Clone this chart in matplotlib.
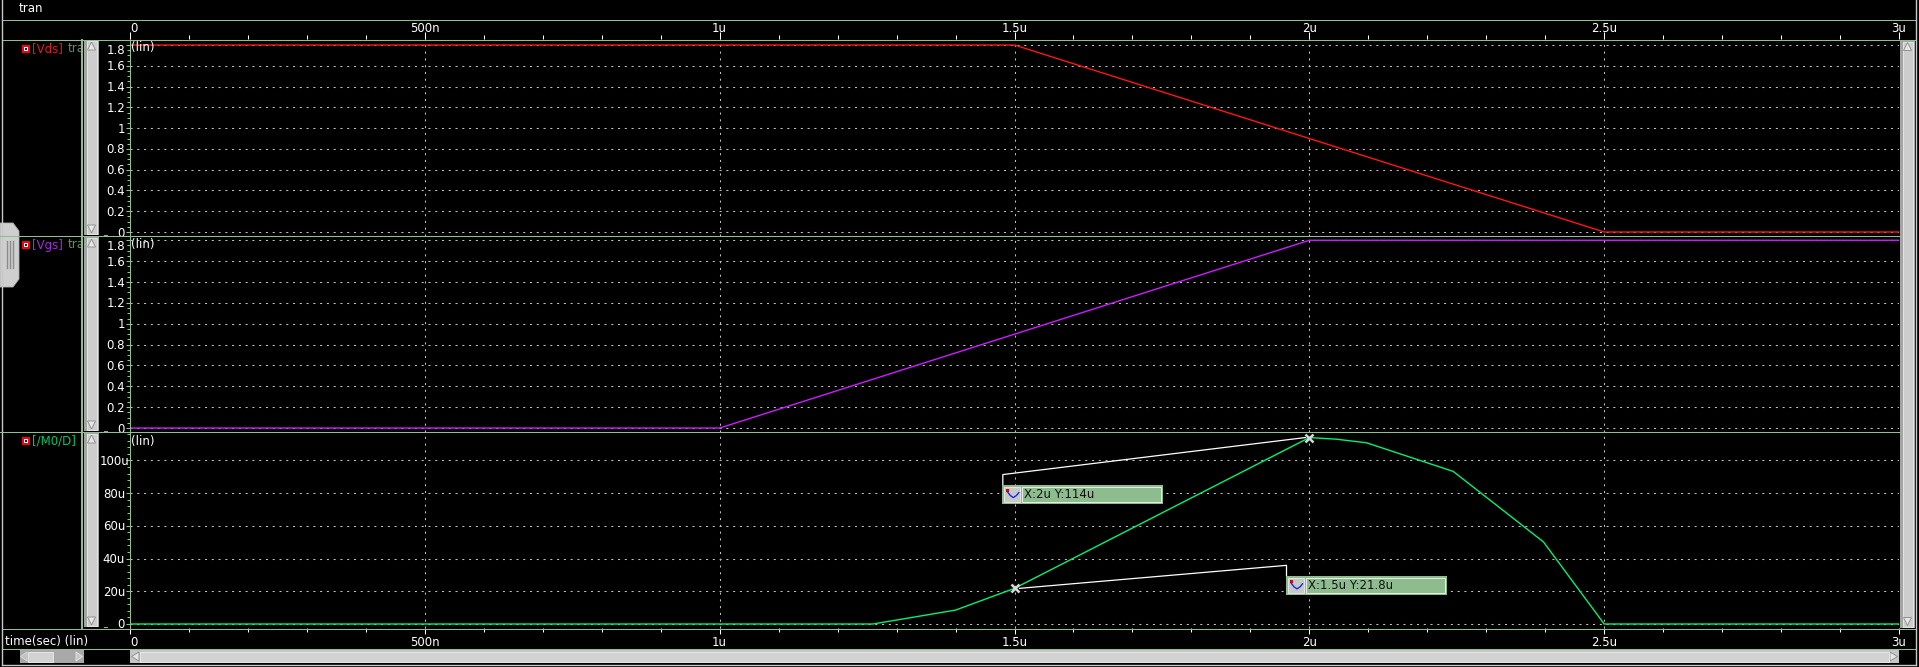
import matplotlib
matplotlib.use("Agg")
import matplotlib.pyplot as plt
from matplotlib.patches import Rectangle, Polygon
from matplotlib.lines import Line2D
from matplotlib.ticker import FixedLocator, MultipleLocator, NullFormatter

W, H = 1919, 667
DPI = 100

# ---------------- data ----------------
time_ticks = [0.0, 0.5, 1.0, 1.5, 2.0, 2.5, 3.0]
time_labels = ["0", "500n", "1u", "1.5u", "2u", "2.5u", "3u"]
volt_ticks = [0.0, 0.2, 0.4, 0.6, 0.8, 1.0, 1.2, 1.4, 1.6, 1.8]
volt_labels = ["0", "0.2", "0.4", "0.6", "0.8", "1", "1.2", "1.4", "1.6", "1.8"]
cur_ticks = [0, 20, 40, 60, 80, 100]
cur_labels = ["0", "20u", "40u", "60u", "80u", "100u"]

t_vds = [0.0, 1.5, 2.5, 3.0]
vds = [1.8, 1.8, 0.0, 0.0]
t_vgs = [0.0, 1.0, 2.0, 3.0]
vgs = [0.0, 0.0, 1.8, 1.8]
t_id = [0.0, 1.26, 1.40, 1.50, 2.00, 2.046, 2.097, 2.244, 2.397, 2.50, 3.00]
id_u = [0.0, 0.0, 8.5, 21.8, 114.0, 113.0, 110.8, 93.3, 50.2, 0.0, 0.0]

mark_t = [1.5, 2.0]
mark_i = [21.8, 114.0]
mark_txt = ["X:1.5u Y:21.8u", "X:2u Y:114u"]

signal_names = ["[Vds]", "[Vgs]", "[/M0/D]"]
# --------------------------------------

GREEN = "#90c090"
GRID = "#c0c0c0"
FS = 8.5
sig_colors = ["#e81818", "#a428e0", "#00c864"]
line_colors = ["#ff1414", "#cc1cff", "#00f070"]

fig = plt.figure(figsize=(W / DPI, H / DPI), dpi=DPI, facecolor="black")


def frac(x0, y0, x1, y1):
    return [x0 / W, 1 - y1 / H, (x1 - x0) / W, (y1 - y0) / H]


panels = [(39, 236, (-0.0385, 1.858)), (236, 432, (-0.038, 1.841)), (432, 628, (-2.45, 117.4))]
tick_sets = [(volt_ticks, volt_labels, 0.05), (volt_ticks, volt_labels, 0.05), (cur_ticks, cur_labels, 4)]
series = [(t_vds, vds), (t_vgs, vgs), (t_id, id_u)]

axes = []
for i, (top, bot, yl) in enumerate(panels):
    ax = fig.add_axes(frac(130, top, 1899, bot))
    ax.set_facecolor("black")
    ax.set_xlim(0, 3.0)
    ax.set_ylim(*yl)
    for s in ["top", "right", "bottom"]:
        ax.spines[s].set_visible(False)
    ax.spines["left"].set_color(GREEN)
    ax.spines["left"].set_linewidth(0.75)
    ax.xaxis.set_major_locator(FixedLocator(time_ticks))
    ax.xaxis.set_minor_locator(MultipleLocator(0.1))
    ax.xaxis.set_major_formatter(NullFormatter())
    ax.xaxis.set_minor_formatter(NullFormatter())
    tk, tl, mn = tick_sets[i]
    ax.yaxis.set_major_locator(FixedLocator(tk))
    ax.yaxis.set_minor_locator(MultipleLocator(mn))
    ax.yaxis.set_major_formatter(NullFormatter())
    ax.yaxis.set_minor_formatter(NullFormatter())
    ax.set_axisbelow(True)
    ax.grid(True, which="major", color=GRID, linestyle=(0, (2.0, 4.5)), linewidth=0.75)
    ax.tick_params(axis="x", which="both", bottom=False, top=False, labelbottom=False, labeltop=False)
    ax.tick_params(axis="y", which="both", left=True, right=False, labelleft=False,
                   color=GREEN, width=0.75, direction="out")
    ax.tick_params(axis="y", which="major", length=3.2)
    ax.tick_params(axis="y", which="minor", length=2.2)
    ts, vs = series[i]
    ax.plot(ts, vs, color=line_colors[i], lw=1.0, solid_joinstyle="miter")
    axes.append(ax)

ax1, ax2, ax3 = axes
ax1.tick_params(axis="x", which="both", top=True, color="white", width=0.75, direction="out")
ax1.tick_params(axis="x", which="major", length=4.7)
ax1.tick_params(axis="x", which="minor", length=3.2)
ax3.tick_params(axis="x", which="both", bottom=True, color="white", width=0.75, direction="out")
ax3.tick_params(axis="x", which="major", length=4.3)
ax3.tick_params(axis="x", which="minor", length=3.1)


def px(ax, x, y):
    d = ax.transData.transform((x, y))
    return d[0], H - d[1]


# y tick labels
ylabel_texts = []
for i, ax in enumerate(axes):
    top = panels[i][0]
    tk, tl, _ = tick_sets[i]
    for v, l in zip(tk, tl):
        yc = px(ax, 0, v)[1]
        dy = -1
        if yc < top + 10:
            dy = -(top + 10 - yc) - 1
        t = ax.annotate(l, xy=(0, v), xycoords=("axes fraction", "data"), xytext=(-5, dy),
                        textcoords="offset pixels", ha="right", va="center", color="white",
                        fontsize=FS, annotation_clip=False)
        ylabel_texts.append(t)
    # (lin)
    ax.annotate("(lin)", xy=(0, 1), xycoords="axes fraction", xytext=(1, -9),
                textcoords="offset pixels", ha="left", va="center", color="white", fontsize=FS)

# x tick labels (top and bottom)
xlabel_texts = []
for v, l in zip(time_ticks, time_labels):
    t1 = ax1.annotate(l, xy=(v, 1), xycoords=("data", "axes fraction"), xytext=(0, 10.5),
                      textcoords="offset pixels", ha="center", va="center", color="white",
                      fontsize=FS, annotation_clip=False)
    t3 = ax3.annotate(l, xy=(v, 0), xycoords=("data", "axes fraction"), xytext=(0, -14.5),
                      textcoords="offset pixels", ha="center", va="center", color="white",
                      fontsize=FS, annotation_clip=False)
    xlabel_texts += [t1, t3]

# markers on the current trace
ax3.plot(mark_t, mark_i, linestyle="none", marker="x", ms=6, mew=1.8, color="#d8d8d8",
         clip_on=False, zorder=5)

# ---------------- overlay (pixel coordinates) ----------------
ov = fig.add_axes([0, 0, 1, 1], zorder=10)
ov.set_xlim(0, W)
ov.set_ylim(H, 0)
ov.axis("off")
ov.patch.set_alpha(0)


def hline(y, x0, x1, color=GREEN, lw=0.75, z=4):
    ov.add_line(Line2D([x0, x1], [y, y], color=color, lw=lw, zorder=z))


def vline(x, y0, y1, color=GREEN, lw=0.75, z=4):
    ov.add_line(Line2D([x, x], [y0, y1], color=color, lw=lw, zorder=z))


# window frame
vline(2, 0, 665, color="#c8c8c8", lw=1.0)
vline(1916, 0, 665, color="#c8c8c8", lw=1.0)
hline(665, 2, 1916, color="#c8c8c8", lw=1.0)

# green separators
hline(20, 3, 1915)
hline(39.5, 3, 1915)
hline(236, 0, 1900)
hline(432, 0, 1900)
hline(628.5, 3, 1915)
hline(648.5, 3, 1915)
vline(82, 39.5, 628.5, lw=1.4)

# title and bottom label
ov.text(19, 8, "tran", color="white", fontsize=FS, ha="left", va="center")
ov.text(5, 642, "time(sec) (lin)", color="white", fontsize=FS, ha="left", va="center")

# signal names + icons
label_y = [49, 245, 441]
for name, c, yy in zip(signal_names, sig_colors, label_y):
    ov.add_patch(Rectangle((21.5, yy - 4.5), 8, 8, fc="#ff0000", ec="none", zorder=1))
    ov.add_patch(Rectangle((23.5, yy - 2.5), 4, 4, fc="white", ec="none", zorder=1))
    ov.add_patch(Rectangle((24.5, yy - 1.5), 2, 2, fc="#0010d0", ec="none", zorder=1))
    ov.text(32, yy, name, color=c, fontsize=FS, ha="left", va="center", zorder=1)
for yy in label_y[:2]:
    ov.text(67.5, yy, "tran", color="#5f8f5f", fontsize=FS, ha="left", va="center", zorder=1)


def vscroll(x0, x1, y0, y1):
    ov.add_patch(Rectangle((x0, y0), x1 - x0, y1 - y0, fc="#a4a4a4", ec="none", zorder=2))
    ov.add_patch(Rectangle((x0 + 2.5, y0 + 1), x1 - x0 - 5, y1 - y0 - 2, fc="#cdcdcd",
                           ec="#ececec", lw=0.6, zorder=2))
    cx = (x0 + x1) / 2
    ov.add_patch(Polygon([(cx, y0 + 2), (x0 + 3.5, y0 + 10), (x1 - 3.5, y0 + 10)], closed=True,
                         fc="#e6e6e6", ec="#8a8a8a", lw=0.6, zorder=2))
    ov.add_patch(Polygon([(cx, y1 - 2), (x0 + 3.5, y1 - 10), (x1 - 3.5, y1 - 10)], closed=True,
                         fc="#e6e6e6", ec="#8a8a8a", lw=0.6, zorder=2))


def hscroll(x0, x1, y0, y1, fc="#c6c6c6", inner="#d2d2d2"):
    ov.add_patch(Rectangle((x0, y0), x1 - x0, y1 - y0, fc=fc, ec="none", zorder=2))
    cy = (y0 + y1) / 2
    ov.add_patch(Polygon([(x0 + 1.5, cy), (x0 + 9, y0 + 2), (x0 + 9, y1 - 2)], closed=True,
                         fc="#e6e6e6", ec="#8a8a8a", lw=0.6, zorder=2))
    ov.add_patch(Polygon([(x1 - 1.5, cy), (x1 - 9, y0 + 2), (x1 - 9, y1 - 2)], closed=True,
                         fc="#e6e6e6", ec="#8a8a8a", lw=0.6, zorder=2))
    ov.add_patch(Rectangle((x0 + 10, y0 + 1.5), x1 - x0 - 20, y1 - y0 - 3, fc=inner,
                           ec="#ececec", lw=0.6, zorder=2))


for (top, bot, _) in panels:
    vscroll(84, 99, top + 1, bot - 1)
    ov.add_line(Line2D([104, 107], [bot - 1.5, bot - 1.5], color="#a0a0a0", lw=0.8, zorder=2))
vscroll(1900, 1915, 40.5, 627.5)

# bottom scroll bars
ov.add_patch(Rectangle((19.5, 650), 64, 13, fc="#a8a8a8", ec="none", zorder=2))
ov.add_patch(Rectangle((28, 651.5), 25, 10, fc="#d2d2d2", ec="#ececec", lw=0.6, zorder=2))
ov.add_patch(Polygon([(20.5, 656.5), (27, 652), (27, 661)], closed=True, fc="#c0c0c0",
                     ec="#dcdcdc", lw=0.6, zorder=2))
ov.add_patch(Polygon([(82.5, 656.5), (76, 652), (76, 661)], closed=True, fc="#c8c8c8",
                     ec="#e8e8e8", lw=0.6, zorder=2))
hscroll(130, 1899, 650, 663)

# left pane handle
ov.add_patch(Polygon([(0, 223), (13, 223), (19, 231), (19, 279), (13, 287), (0, 287)],
                     closed=True, fc="#cfcfcf", ec="#b0b0b0", lw=0.6, zorder=2))
for gx in (7, 10, 13):
    ov.add_line(Line2D([gx, gx], [241, 268], color="#8c8c8c", lw=1.0, zorder=2))
hline(236, 0, 20)

# marker annotations
box_cfg = [
    dict(dx=271.5, elbow=-23.0, top=-12.5),
    dict(dx=-307.0, elbow=37.0, top=47.0),
]
for mt, mi, txt, cfg in zip(mark_t, mark_i, mark_txt, box_cfg):
    mx, my = px(ax3, mt, mi)
    bx = mx + cfg["dx"]
    by = my + cfg["top"]
    sx = mx + (5 if cfg["dx"] > 0 else -4)
    ov.add_line(Line2D([sx, bx + 0.5, bx + 0.5], [my, my + cfg["elbow"], by], color="white",
                       lw=0.9, zorder=3))
    bw, bh = 161, 19
    ov.add_patch(Rectangle((bx, by), bw, bh, fc="#8fbc8f", ec="none", zorder=3))
    ov.add_patch(Rectangle((bx + 19.5, by + 2), bw - 21.5, bh - 4, fc="#8fbc8f",
                           ec="#e4f0e4", lw=0.7, zorder=3))
    ov.add_patch(Rectangle((bx + 2, by + 2), 16, bh - 4, fc="#c8c8c8", ec="#ececec",
                           lw=0.6, zorder=3))
    ov.add_patch(Rectangle((bx + 4, by + 4), 3, 3, fc="#e00000", ec="none", zorder=4))
    ov.add_line(Line2D([bx + 5, bx + 8, bx + 11, bx + 14, bx + 16.5],
                       [by + 7, by + 11, by + 13, by + 11, by + 8], color="#1030e0", lw=1.0, zorder=4))
    ov.text(bx + 22, by + bh / 2 + 0.5, txt, color="#101010", fontsize=FS, ha="left",
            va="center", zorder=4)

# clamp labels like the viewer does
fig.canvas.draw()
r = fig.canvas.get_renderer()
for t in ylabel_texts:
    bb = t.get_window_extent(r)
    if bb.x0 < 100:
        x, y = t.xyann
        t.xyann = (x + (100 - bb.x0), y)
for t in xlabel_texts:
    bb = t.get_window_extent(r)
    if bb.x0 < 130:
        x, y = t.xyann
        t.xyann = (x + (130 - bb.x0), y)

fig.savefig("out.png", dpi=DPI, facecolor="black")
